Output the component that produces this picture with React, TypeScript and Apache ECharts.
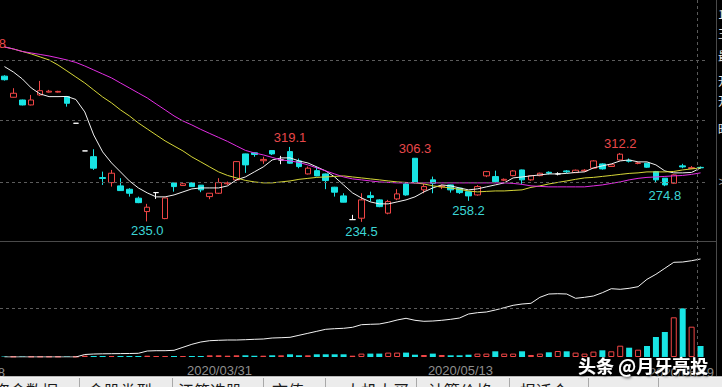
import React, { useEffect, useRef } from "react";
import * as echarts from "echarts";

const dates = [
  "2020/03/03","2020/03/04","2020/03/05","2020/03/06","2020/03/09","2020/03/10","2020/03/11","2020/03/12","2020/03/13","2020/03/16",
  "2020/03/17","2020/03/18","2020/03/19","2020/03/20","2020/03/23","2020/03/24","2020/03/25","2020/03/26","2020/03/27","2020/03/30",
  "2020/03/31","2020/04/01","2020/04/02","2020/04/03","2020/04/07","2020/04/08","2020/04/09","2020/04/10","2020/04/13","2020/04/14",
  "2020/04/15","2020/04/16","2020/04/17","2020/04/20","2020/04/21","2020/04/22","2020/04/23","2020/04/24","2020/04/27","2020/04/28",
  "2020/04/29","2020/04/30","2020/05/06","2020/05/07","2020/05/08","2020/05/11","2020/05/12","2020/05/13","2020/05/14","2020/05/15",
  "2020/05/18","2020/05/19","2020/05/20","2020/05/21","2020/05/22","2020/05/25","2020/05/26","2020/05/27","2020/05/28","2020/05/29",
  "2020/06/01","2020/06/02","2020/06/03","2020/06/04","2020/06/05","2020/06/08","2020/06/09","2020/06/10","2020/06/11","2020/06/12",
  "2020/06/15","2020/06/16","2020/06/17","2020/06/18","2020/06/19","2020/06/22","2020/06/23","2020/06/24","2020/06/29"
];

const openP = [
  399, 375.2, 372.1, 366.5, 377.8, 381.0, 381.0, 375.9, 345.8, 314.6,
  308.1, 284.5, 278.8, 275.1, 271.3, 261.2, 246.1, 267.5, 238.2, 278.5,
  275.5, 278.5, 275.9, 263.0, 266.8, 277.5, 281.9, 311.2, 312.5, 303.5,
  315.0, 304.4, 313.8, 303.3, 288.6, 292.3, 288.6, 273.6, 263.8, 237.0,
  238.6, 264.0, 259.3, 244.3, 260.4, 277.3, 306.3, 270.6, 281.9, 274.0,
  276.2, 272.5, 268.6, 264.9, 286.4, 285.6, 281.5, 286.7, 293.1, 281.9,
  286.7, 290.5, 288.6, 292.0, 290.1, 292.0, 295.1, 299.9, 297.0, 304.4,
  304.0, 300.5, 300.7, 291.2, 283.8, 278.1, 297.7, 294.7, 296.0
];
const closeP = [
  395, 379.7, 366.5, 372.1, 382.6, 382.0, 381.8, 368.4, 345.8, 314.6,
  295.1, 283.5, 289.4, 269.8, 266.8, 256.2, 251.0, 267.5, 261.5, 274.3,
  277.5, 274.3, 270.6, 266.8, 278.8, 278.5, 302.5, 298.8, 310.5, 305.0,
  311.2, 304.4, 300.7, 296.9, 295.1, 286.4, 281.1, 268.0, 256.7, 237.0,
  259.3, 262.0, 251.7, 257.4, 266.1, 264.9, 278.8, 274.3, 278.1, 275.0,
  270.6, 267.5, 263.8, 274.3, 291.2, 279.9, 282.5, 292.0, 281.9, 286.7,
  289.4, 289.5, 288.6, 291.0, 292.8, 292.8, 303.3, 294.3, 299.0, 310.9,
  303.0, 301.0, 296.2, 281.9, 276.2, 287.5, 296.5, 295.7, 295.5
];
const lowP = [
  394, 375.0, 366.0, 366.0, 376.7, 380.5, 380.5, 364.6, 345.8, 314.6,
  293.1, 276.2, 274.3, 269.8, 263.0, 255.6, 235.0, 260.4, 237.5, 268.6,
  275.0, 274.0, 268.0, 260.1, 266.0, 276.0, 281.0, 289.8, 308.0, 300.0,
  310.0, 299.6, 300.0, 295.0, 288.0, 286.0, 271.4, 263.0, 256.5, 237.0,
  234.5, 257.4, 251.0, 243.0, 259.0, 264.0, 278.0, 266.8, 266.8, 271.5,
  267.5, 266.0, 258.2, 264.0, 285.0, 279.0, 280.5, 286.0, 277.3, 281.0,
  286.0, 288.0, 287.0, 289.5, 289.5, 291.0, 294.5, 293.5, 296.5, 304.0,
  301.5, 299.5, 295.5, 278.5, 274.8, 277.5, 295.0, 294.0, 294.5
];
const highP = [
  400, 385.4, 372.5, 377.8, 393.6, 383.5, 382.5, 376.0, 345.8, 314.6,
  316.5, 291.2, 293.1, 283.8, 272.5, 263.0, 254.8, 267.5, 261.5, 278.5,
  279.0, 279.0, 276.0, 267.0, 283.8, 280.0, 303.0, 311.5, 313.0, 308.0,
  315.0, 309.0, 319.1, 306.0, 297.0, 297.0, 289.0, 274.0, 266.8, 242.4,
  266.8, 268.6, 260.0, 259.3, 271.4, 278.0, 306.3, 277.3, 285.6, 276.5,
  276.5, 273.0, 269.0, 276.0, 292.0, 292.3, 283.5, 293.0, 293.5, 287.0,
  290.0, 291.5, 290.5, 293.0, 293.5, 294.0, 304.0, 300.5, 299.5, 312.2,
  306.0, 302.0, 301.0, 292.0, 284.0, 288.0, 300.0, 297.5, 297.0
];

const ma5 = [
  409.8, 403.7, 395.9, 385.7, 378.9, 375.9, 375.9, 376.1, 372.7, 358.6,
  332.6, 313.5, 301.0, 290.9, 280.7, 272.8, 267.2, 262.7, 262.7, 264.9,
  268.3, 271.7, 272.8, 272.8, 272.8, 275.1, 281.9, 285.2, 290.9, 296.5,
  304.4, 306.7, 306.7, 303.3, 301.0, 296.5, 292.0, 285.2, 276.2, 267.2,
  261.5, 257.0, 254.8, 254.8, 257.0, 259.3, 262.7, 268.3, 272.8, 276.2,
  275.1, 272.8, 270.6, 271.7, 274.0, 276.2, 278.5, 284.1, 285.2, 286.4,
  287.5, 288.6, 288.6, 289.2, 290.3, 290.9, 295.4, 297.7, 299.9, 303.3,
  304.4, 302.2, 302.2, 298.8, 292.0, 289.8, 289.8, 290.3, 295.4
];
const ma10 = [
  432.0, 429.7, 426.9, 424.1, 420.7, 417.3, 411.6, 404.9, 398.1, 391.3,
  383.4, 375.5, 368.8, 360.9, 354.1, 346.2, 339.4, 332.6, 325.9, 320.2,
  314.6, 307.8, 302.2, 296.5, 290.9, 286.9, 284.1, 281.3, 279.6, 278.5,
  278.5, 279.6, 280.7, 282.5, 283.6, 284.7, 285.2, 285.8, 286.4, 285.2,
  284.1, 283.0, 281.9, 280.7, 279.6, 279.0, 278.5, 277.3, 275.1, 274.0,
  272.8, 271.1, 269.4, 268.3, 268.9, 269.4, 269.4, 270.0, 270.6, 273.4,
  275.1, 277.3, 279.0, 280.7, 282.5, 284.1, 284.7, 285.8, 286.9, 288.1,
  289.2, 289.8, 290.9, 290.9, 290.9, 291.4, 293.1, 294.3, 295.4
];
const ma30 = [
  432.0, 429.7, 426.9, 425.2, 423.5, 421.8, 419.6, 417.3, 414.5, 410.5,
  406.0, 401.5, 397.0, 391.3, 385.7, 380.0, 374.4, 367.6, 360.9, 354.1,
  348.4, 343.9, 338.9, 334.3, 329.8, 325.3, 320.2, 315.2, 312.3, 310.1,
  307.3, 304.4, 303.3, 301.6, 298.8, 295.4, 292.0, 288.6, 285.2, 283.0,
  281.9, 280.7, 279.6, 279.0, 278.5, 278.5, 278.5, 278.5, 278.5, 278.5,
  278.5, 278.5, 278.5, 278.5, 278.5, 278.5, 278.5, 277.9, 276.8, 275.1,
  274.5, 274.0, 274.0, 274.0, 274.0, 274.0, 275.1, 276.2, 277.9, 279.6,
  281.9, 283.6, 284.7, 285.2, 285.8, 286.4, 286.9, 288.1, 289.8
];

const volume = [
  0.5, 0.5, 0.5, 0.5, 0.5, 0.5, 0.5, 0.5, 0.5, 1.3,
  1, 1, 1, 1, 1, 1, 1.3, 1, 1, 1,
  1, 1, 1, 1.7, 1.7, 1.3, 1.7, 1.7, 1.3, 1.3,
  1.7, 1.7, 2.7, 1.7, 1.7, 2.7, 2.7, 2.7, 2.7, 1.3,
  3.4, 3.4, 3.4, 4.4, 4.4, 4.4, 2.3, 2, 3.4, 2,
  1.7, 1.7, 2.3, 3.4, 3.4, 5.7, 3.4, 3.4, 5.7, 2,
  3.4, 4.7, 6, 5.7, 4.4, 3.4, 5.4, 6.7, 5.7, 11.3,
  9.3, 7.3, 11, 20, 25, 39.7, 48.7, 30.3, 11
];
const obv = [
  0, 0, 0, 0, 0, 0, 0, 0, 0, 2.5,
  3, 3.2, 3.3, 3.4, 3.5, 3.7, 6, 6.3, 6.3, 6.7,
  9.7, 12.7, 15, 16.3, 16.7, 17, 17, 17.3, 17.7, 18,
  19, 19.3, 19.7, 21.7, 23.7, 25.7, 27.7, 28.3, 28.7, 29.7,
  32.3, 32.7, 33, 34.7, 37, 38.7, 36.7, 35.7, 36, 36.7,
  37.7, 39, 43, 44.3, 45, 47, 49.3, 51.7, 53, 53.7,
  59.7, 63, 63.3, 63, 58.7, 59.7, 61, 64.3, 68.3, 67.7,
  68.7, 70.3, 77.7, 82.7, 88.7, 94.7, 95, 96.3, 98
];

const highMarkIdx = [32, 46, 69];
const lowMarkIdx = [16, 40, 52, 74];
const priceGridLines = [417.3, 349.6, 279.6];
const volumeGridLines = [49];
const dateLabelIdx = [20, 47];
const edgeDates = ["2020/02/18", "2020/06/19"];
const offHigh = "433.8";
const tabs = ["资金数据", "金股类型", "江筹选股", "市值", "大机大买", "计算价格", "报适合"];
const tabX = [-6, 88, 178, 272, 345, 428, 520];
const tabDividers = [79, 172, 263, 325, 416, 509, 588, 658];
const sideChars = ["1", "王", "最", "开", "开", "昨"];
const sideY = [13, 33, 55, 80, 100, 128];

const RED = "#f04646";
const CYAN = "#18e4e4";
const RED_TXT = "#e8484a";
const CYAN_TXT = "#3cd6d6";
const NUM_FONT = "'Liberation Sans', Arial, sans-serif";
const CJK_FONT = "'Noto Sans CJK SC', sans-serif";

export default function App() {
  const ref = useRef<HTMLDivElement>(null);
  useEffect(() => {
    if (!ref.current) return;
    const chart = echarts.init(ref.current, null, { renderer: "svg" });
    const white = { color: "#fff", color0: "#fff", borderColor: "#fff", borderColor0: "#fff" };
    const candles = dates.map((d, i) => {
      const v = [openP[i], closeP[i], lowP[i], highP[i]];
      return openP[i] === closeP[i] ? { value: v, itemStyle: white } : v;
    });
    const volData = volume.map((v, i) => ({
      value: v,
      itemStyle:
        closeP[i] >= openP[i]
          ? { color: "#000", borderColor: RED, borderWidth: 1 }
          : { color: CYAN, borderWidth: 0 },
    }));
    const marks = [
      ...highMarkIdx.map((i) => ({
        coord: [dates[i], highP[i]],
        value: highP[i].toFixed(1),
        label: { position: "top", color: RED_TXT },
      })),
      ...lowMarkIdx.map((i) => ({
        coord: [dates[i], lowP[i]],
        value: lowP[i].toFixed(1),
        label: { position: "bottom", color: CYAN_TXT },
      })),
    ];
    const gridL = -5.2;
    const gridW = 710.2;
    const graphics: any[] = [
      { type: "line", shape: { x1: 0, y1: 241.5, x2: 716, y2: 241.5 }, style: { stroke: "#4a4a4a", lineWidth: 1 }, z: 10 },
      { type: "line", shape: { x1: 716.5, y1: 0, x2: 716.5, y2: 376 }, style: { stroke: "#4a4a4a", lineWidth: 1 }, z: 10 },
      { type: "line", shape: { x1: 697.5, y1: 0, x2: 697.5, y2: 357 }, style: { stroke: "#5a5a5a", lineWidth: 1, lineDash: [3, 3] }, z: 10 },
      { type: "text", x: 6, y: 43, style: { text: offHigh, align: "right", verticalAlign: "middle", fill: RED_TXT, fontSize: 13, fontFamily: NUM_FONT }, z: 10 },
      { type: "text", x: 5, y: 372, style: { text: edgeDates[0], align: "right", verticalAlign: "middle", fill: "#8f8f8f", fontSize: 13, fontFamily: NUM_FONT }, z: 10 },
      { type: "text", x: 714, y: 372, style: { text: edgeDates[1], align: "right", verticalAlign: "middle", fill: "#8f8f8f", fontSize: 13, fontFamily: NUM_FONT }, z: 10 },
      { type: "text", x: 718.5, y: 182, style: { text: ">", verticalAlign: "middle", fill: "#9a9a9a", fontSize: 12, fontFamily: NUM_FONT }, z: 10 },
      ...sideChars.map((c, i) => ({
        type: "text", x: 718, y: sideY[i],
        style: { text: c, verticalAlign: "middle", fill: "#e6e6e6", fontSize: 12, lineHeight: 14, fontFamily: CJK_FONT }, z: 10,
      })),
      { type: "rect", shape: { x: 0, y: 376.5, width: 722, height: 11 }, style: { fill: "#ececec" }, z: 20 },
      { type: "line", shape: { x1: 0, y1: 377, x2: 722, y2: 377 }, style: { stroke: "#fafafa", lineWidth: 1 }, z: 21 },
      ...tabDividers.map((x) => ({
        type: "line", shape: { x1: x + 0.5, y1: 378, x2: x + 0.5, y2: 387 }, style: { stroke: "#a8a8a8", lineWidth: 1 }, z: 21,
      })),
      ...tabs.map((t, i) => ({
        type: "text", x: tabX[i], y: 382,
        style: { text: t, verticalAlign: "top", fill: "#1a1a1a", fontSize: 16, fontFamily: CJK_FONT }, z: 22,
      })),
      {
        type: "text", x: 578, y: 365,
        style: {
          text: "头条 @月牙亮投", verticalAlign: "middle", fill: "#ffffff", fontSize: 18, fontWeight: "bold",
          fontFamily: CJK_FONT, textShadowColor: "rgba(0,0,0,0.9)", textShadowBlur: 3, textShadowOffsetX: 1, textShadowOffsetY: 1,
        },
        z: 30,
      },
    ];
    chart.setOption({
      animation: false,
      backgroundColor: "#000",
      grid: [
        { left: gridL, width: gridW, top: 0, height: 240 },
        { left: gridL, width: gridW, top: 242, height: 115 },
      ],
      xAxis: [
        { type: "category", gridIndex: 0, data: dates, boundaryGap: true, axisLine: { show: false }, axisTick: { show: false }, axisLabel: { show: false }, splitLine: { show: false } },
        {
          type: "category", gridIndex: 1, data: dates, boundaryGap: true,
          axisLine: { show: false }, axisTick: { show: false }, splitLine: { show: false },
          axisLabel: {
            show: true, interval: (i: number) => dateLabelIdx.includes(i), color: "#8f8f8f", fontSize: 13,
            fontFamily: NUM_FONT, align: "left", margin: 7, padding: [0, 0, 0, 4],
          },
        },
      ],
      yAxis: [
        { type: "value", gridIndex: 0, min: 214, max: 485, show: false, splitLine: { show: false } },
        { type: "value", gridIndex: 1, min: 0, max: 115, show: false, splitLine: { show: false } },
      ],
      series: [
        {
          type: "candlestick", xAxisIndex: 0, yAxisIndex: 0, data: candles, barWidth: 6,
          itemStyle: { color: "#000", color0: CYAN, borderColor: RED, borderColor0: CYAN, borderColorDoji: "#fff", borderWidth: 1 },
          markPoint: {
            symbol: "circle", symbolSize: 0, silent: true,
            itemStyle: { color: "transparent" },
            label: { show: true, formatter: "{c}", fontSize: 13, fontFamily: NUM_FONT, distance: 3 },
            data: marks,
          },
          markLine: {
            silent: true, symbol: ["none", "none"], label: { show: false },
            lineStyle: { color: "#5c5c5c", width: 1, type: [3, 3] },
            data: priceGridLines.map((v) => ({ yAxis: v })),
          },
          z: 3,
        },
        { type: "line", xAxisIndex: 0, yAxisIndex: 0, data: ma5, symbol: "none", silent: true, lineStyle: { color: "#f2f2f2", width: 1 }, z: 4 },
        { type: "line", xAxisIndex: 0, yAxisIndex: 0, data: ma10, symbol: "none", silent: true, lineStyle: { color: "#d6d638", width: 1 }, z: 4 },
        { type: "line", xAxisIndex: 0, yAxisIndex: 0, data: ma30, symbol: "none", silent: true, lineStyle: { color: "#e22ee2", width: 1 }, z: 4 },
        {
          type: "bar", xAxisIndex: 1, yAxisIndex: 1, data: volData, barWidth: 6,
          markLine: {
            silent: true, symbol: ["none", "none"], label: { show: false },
            lineStyle: { color: "#5c5c5c", width: 1, type: [3, 3] },
            data: volumeGridLines.map((v) => ({ yAxis: v })),
          },
        },
        { type: "line", xAxisIndex: 1, yAxisIndex: 1, data: obv, symbol: "none", silent: true, lineStyle: { color: "#f2f2f2", width: 1 }, z: 4 },
      ],
      graphic: graphics,
    });
    return () => chart.dispose();
  }, []);
  return (
    <div
      ref={ref}
      style={{ position: "fixed", left: 0, top: 0, width: 722, height: 387, background: "#000" }}
    />
  );
}
